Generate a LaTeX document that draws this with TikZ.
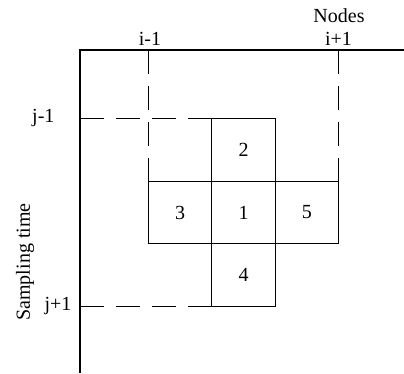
\documentclass[tikz,border=0pt]{standalone}
\usepackage{fontspec}
\setmainfont{Liberation Serif}
\begin{document}
\begin{tikzpicture}[x=1pt,y=-1pt,line width=1.1pt,
  cell/.style={draw,minimum width=63.3pt,minimum height=62.5pt,inner sep=0pt,outer sep=0pt,anchor=center},
  guide/.style={dash pattern=on 24pt off 12pt},
  lbl/.style={inner sep=0pt,font=\fontsize{20}{23}\selectfont}]
\useasboundingbox (0,0) rectangle (404,374);
% axes
\coordinate (o) at (80,50);
\coordinate (xe) at (404,50);
\coordinate (ye) at (80,373);
\draw (xe) -- (o) -- (ye);
% cells
\node[cell] (c2) at (243.5,150) {};
\node[cell] (c3) at (180.2,212.5) {};
\node[cell] (c1) at (243.5,212.5) {};
\node[cell] (c5) at (306.8,212.5) {};
\node[cell] (c4) at (243.5,275) {};
\node[lbl] at (c2) {2};
\node[lbl] at (c3) {3};
\node[lbl] at (c1) {1};
\node[lbl] at (c5) {5};
\node[lbl] at (c4) {4};
% guide coordinates on axes
\coordinate (im) at (c3.north west |- o);
\coordinate (ip) at (c5.north east |- o);
\coordinate (jm) at (o |- c2.north west);
\coordinate (jp) at (o |- c4.south west);
\draw[guide] (im) -- (c3.north west);
\draw[guide] (ip) -- (c5.north east);
\draw[guide] (jm) -- (c2.north west);
\draw[guide] (jp) -- (c4.south west);
% labels
\node[lbl,anchor=base] (lim) at (150,46) {i-1};
\node[lbl,anchor=base] (lip) at (338.5,46) {i+1};
\node[lbl,anchor=base] (lnodes) at (339,22.5) {Nodes};
\node[lbl,anchor=east] (ljm) at (55,118) {j-1};
\node[lbl,anchor=east] (ljp) at (72,306) {j+1};
\node[lbl,rotate=90] (lst) at (25,262) {Sampling time};
\end{tikzpicture}
\end{document}
